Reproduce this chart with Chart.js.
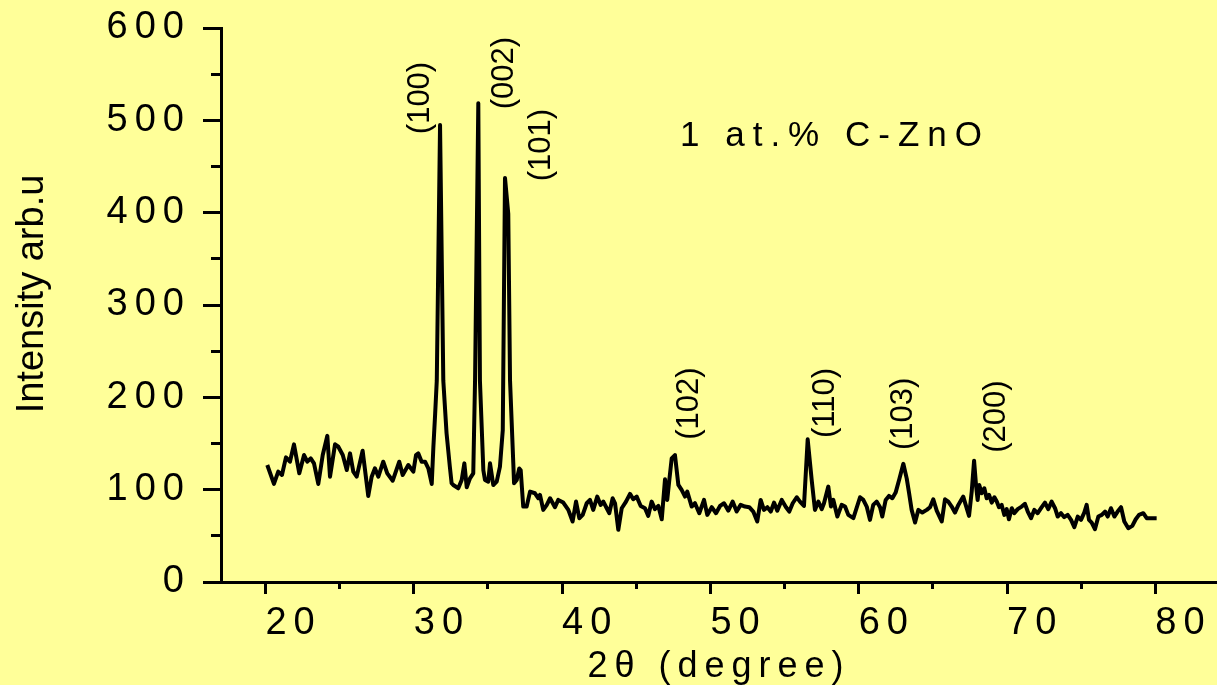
<!DOCTYPE html>
<html>
<head>
<meta charset="utf-8">
<title>XRD 1 at.% C-ZnO</title>
<script src="https://cdn.jsdelivr.net/npm/chart.js@4"></script>
<style>
  html, body { margin: 0; padding: 0; background: #ffff99; }
  canvas { display: block; }
</style>
</head>
<body>
<canvas id="xrd" width="1217" height="685"></canvas>
<script>
// 2-theta (degree) and intensity (arb. u) of the scan
const theta = [
  20.12, 20.57, 20.86, 21.11, 21.38, 21.65, 21.92, 22.28, 22.60, 22.82,
  23.05, 23.27, 23.56, 23.86, 24.17, 24.35, 24.69, 24.91, 25.21, 25.48,
  25.70, 25.92, 26.15, 26.55, 26.93, 27.16, 27.38, 27.61, 27.94, 28.21,
  28.58, 29.02, 29.25, 29.63, 29.97, 30.15, 30.30, 30.53, 30.76, 30.98,
  31.21, 31.32, 31.44, 31.55, 31.77, 31.99, 32.21, 32.43, 32.55, 32.66,
  33.00, 33.23, 33.41, 33.57, 33.79, 34.01, 34.13, 34.35, 34.46, 34.69,
  34.80, 35.02, 35.14, 35.36, 35.59, 35.81, 36.00, 36.15, 36.37, 36.49,
  36.71, 36.76, 36.94, 37.11, 37.21, 37.38, 37.61, 37.84, 38.17, 38.40,
  38.51, 38.73, 38.96, 39.19, 39.52, 39.74, 40.08, 40.42, 40.71, 40.94,
  41.16, 41.39, 41.66, 41.88, 42.10, 42.37, 42.60, 42.78, 43.01, 43.18,
  43.41, 43.57, 43.79, 44.02, 44.31, 44.58, 44.80, 45.03, 45.30, 45.59,
  45.81, 46.04, 46.26, 46.49, 46.72, 46.94, 47.09, 47.23, 47.39, 47.61,
  47.84, 48.06, 48.29, 48.44, 48.74, 48.96, 49.25, 49.57, 49.79, 50.09,
  50.38, 50.65, 50.92, 51.21, 51.50, 51.77, 52.04, 52.33, 52.62, 52.89,
  53.16, 53.39, 53.61, 53.84, 54.07, 54.29, 54.51, 54.81, 55.10, 55.32,
  55.55, 55.82, 56.04, 56.31, 56.56, 56.83, 57.05, 57.28, 57.51, 57.66,
  57.95, 58.13, 58.29, 58.56, 58.85, 59.08, 59.30, 59.64, 60.09, 60.31,
  60.54, 60.76, 60.98, 61.21, 61.44, 61.59, 61.82, 62.04, 62.27, 62.49,
  62.75, 63.01, 63.24, 63.40, 63.57, 63.80, 64.02, 64.29, 64.59, 64.81,
  65.03, 65.26, 65.60, 65.82, 66.04, 66.27, 66.49, 66.72, 66.94, 67.05,
  67.21, 67.44, 67.62, 67.78, 67.91, 68.02, 68.13, 68.29, 68.47, 68.63,
  68.79, 68.97, 69.15, 69.31, 69.46, 69.64, 69.82, 69.98, 70.13, 70.32,
  70.49, 70.72, 70.99, 71.21, 71.40, 71.62, 71.84, 72.07, 72.34, 72.56,
  72.78, 73.01, 73.24, 73.42, 73.64, 73.86, 74.09, 74.32, 74.54, 74.77,
  74.99, 75.21, 75.37, 75.53, 75.71, 75.93, 76.16, 76.39, 76.61, 76.79,
  77.01, 77.24, 77.46, 77.69, 77.91, 78.18, 78.45, 78.68, 78.90, 79.19,
  79.42, 80.09
];
const intensity = [
  126.7, 106.2, 119.5, 115.9, 135.0, 130.3, 149.1, 117.7, 137.5, 130.3,
  133.9, 128.5, 106.2, 137.5, 158.3, 114.1, 149.1, 146.5, 137.5, 121.3,
  139.3, 119.5, 114.1, 142.1, 93.2, 114.1, 123.1, 114.1, 130.3, 117.7,
  109.7, 130.3, 115.9, 126.7, 119.5, 137.5, 139.3, 130.3, 130.3, 123.1,
  106.2, 146, 182, 218, 495, 218, 161, 125, 107, 105,
  101.5, 110.5, 128.5, 102.6, 112.3, 117.7, 218, 518.5, 218, 121,
  110.5, 108.7, 128.5, 105, 108.7, 125, 164.5, 437.5, 399, 218,
  128.5, 107, 110.5, 123, 121, 81.7, 81.7, 97.9, 96.1, 90.7,
  94.3, 78.1, 83.2, 90.7, 81, 88.9, 86, 78.1, 65.5, 87.1,
  69.1, 72.7, 85.3, 88.9, 78.1, 92.5, 83.5, 87.1, 79.9, 74.5,
  90.7, 85.3, 56.5, 79.9, 87.1, 95.4, 89.6, 92.5, 82.4, 79.9,
  71.6, 87.1, 78.9, 82.4, 68.0, 111.3, 88.9, 110.5, 133.9, 137.5,
  105.1, 99.7, 92.5, 97.9, 81.7, 85.3, 74.5, 88.9, 72.7, 81,
  74.5, 82.4, 85.3, 77.3, 87.1, 76.3, 83.5, 81.7, 81, 76.3,
  65.5, 88.9, 78.1, 81, 76.3, 86, 77.3, 88.9, 81, 76.3,
  85.3, 91.8, 87.1, 82.4, 154.5, 110.5, 78.1, 87.1, 78.9, 85.3,
  103.3, 81.7, 88.9, 70.9, 83.5, 81.7, 72.7, 69.1, 91.8, 88.9,
  81.7, 67.3, 83.5, 87.1, 81, 70.9, 88.9, 93.2, 90.7, 96.8,
  112, 128, 112, 96, 78.1, 64.4, 78.1, 75.2, 78.1, 81,
  89.6, 77.3, 65.5, 89.6, 87.1, 81.7, 75.2, 83.5, 89.6, 92.5,
  83.8, 71.6, 97.9, 131.3, 105.1, 88.9, 105.1, 96.1, 101.5, 90.7,
  94.3, 86, 91.8, 87.1, 81, 83.5, 72.7, 78.9, 68, 79.9,
  74.5, 78.9, 81.7, 84.6, 76.3, 69.1, 78.1, 74.5, 81, 86,
  78.9, 87.1, 79.9, 70.9, 74.5, 70.2, 72.7, 67.3, 59.4, 70.9,
  67.3, 75.2, 83.5, 67.3, 64.4, 57.2, 70.9, 72.7, 76.3, 70.9,
  79.9, 70.9, 76.3, 81, 65.5, 58.3, 60.8, 68, 72.7, 74.5,
  69.1, 69.1
];

// axis ticks (labels only on the majors)
const xTicks = [20, 25, 30, 35, 40, 45, 50, 55, 60, 65, 70, 75, 80];
const yTicks = [0, 50, 100, 150, 200, 250, 300, 350, 400, 450, 500, 550, 600];

// Miller indices of the ZnO reflections and where each name sits (2theta, intensity)
const peakNames = ['(100)', '(002)', '(101)', '(102)', '(110)', '(103)', '(200)'];
const peakNameAt = [[30.42, 485], [36.08, 512], [38.58, 434], [48.62, 154], [57.73, 156], [62.99, 143], [69.26, 140]];

const sampleName = '1 at.% C-ZnO';
const FONT = 'Arial, "Liberation Sans", sans-serif';

// wide letter spacing for tick labels / x title, plain text for the rest
const textLayer = {
  id: 'textLayer',
  beforeDraw(chart) {
    chart.ctx.letterSpacing = '7px';
  },
  afterDraw(chart) {
    const { ctx, scales: { x, y } } = chart;
    ctx.save();
    ctx.fillStyle = '#000';

    // y axis title
    ctx.letterSpacing = '0px';
    ctx.font = '38px ' + FONT;
    ctx.save();
    ctx.translate(43, 294);
    ctx.rotate(-Math.PI / 2);
    ctx.textAlign = 'center';
    ctx.textBaseline = 'alphabetic';
    ctx.fillText('Intensity arb.u', 0, 0);
    ctx.restore();

    // reflection names, written upward
    ctx.font = '31px ' + FONT;
    peakNames.forEach((name, i) => {
      const px = x.getPixelForValue(peakNameAt[i][0]);
      const py = y.getPixelForValue(peakNameAt[i][1]);
      ctx.save();
      ctx.translate(px, py);
      ctx.rotate(-Math.PI / 2);
      ctx.textAlign = 'left';
      ctx.textBaseline = 'middle';
      ctx.fillText(name, 0, 0);
      ctx.restore();
    });

    // sample name
    ctx.letterSpacing = '8px';
    ctx.font = '35px ' + FONT;
    ctx.textAlign = 'left';
    ctx.textBaseline = 'alphabetic';
    ctx.fillText(sampleName, x.getPixelForValue(47.95), y.getPixelForValue(472.3));
    ctx.restore();
  }
};

new Chart(document.getElementById('xrd'), {
  type: 'line',
  data: {
    datasets: [{
      data: theta.map((t, i) => ({ x: t, y: intensity[i] })),
      borderColor: '#000',
      borderWidth: 4,
      borderJoinStyle: 'round',
      pointRadius: 0,
      tension: 0,
      fill: false
    }]
  },
  options: {
    responsive: false,
    animation: false,
    layout: { padding: { top: 28, right: 0, bottom: 0, left: 0 } },
    plugins: {
      legend: { display: false },
      tooltip: { enabled: false }
    },
    scales: {
      x: {
        type: 'linear',
        min: 17,
        max: 84.16,
        afterBuildTicks: s => { s.ticks = xTicks.map(v => ({ value: v })); },
        afterFit: s => { s.height = 103; s.paddingLeft = 0; s.paddingRight = 0; },
        border: { display: true, color: '#000', width: 3 },
        grid: {
          drawOnChartArea: false,
          tickLength: 12,
          tickWidth: 3,
          tickColor: '#000',
          // minor ticks: only the first few px of the tick line are drawn
          tickBorderDash: c => (c.tick && c.tick.value % 10 ? [5, 40] : [])
        },
        ticks: {
          autoSkip: false,
          maxRotation: 0,
          align: 'start',
          padding: 7,
          color: '#000',
          font: { family: FONT, size: 38 },
          callback: v => (v % 10 === 0 ? String(v) : '')
        },
        title: {
          display: true,
          text: '2θ (degree)',
          color: '#000',
          padding: { top: 0, bottom: 0 },
          font: { family: FONT, size: 36, lineHeight: 1 }
        }
      },
      y: {
        min: 0,
        max: 600,
        afterBuildTicks: s => { s.ticks = yTicks.map(v => ({ value: v })); },
        // fixed axis width; the top label may hang into the outer padding
        afterFit: s => { s.width = 221; s.paddingTop = 0; s.paddingBottom = 0; },
        border: { display: true, color: '#000', width: 3 },
        grid: {
          drawOnChartArea: false,
          tickLength: 18,
          tickWidth: 3,
          tickColor: '#000',
          // tick lines run outer -> inner here, so skip the outer 8 px on minors
          tickBorderDash: c => (c.tick && c.tick.value % 100 ? [10, 8] : []),
          tickBorderDashOffset: c => (c.tick && c.tick.value % 100 ? 10 : 0)
        },
        ticks: {
          autoSkip: false,
          padding: 12,
          color: '#000',
          font: { family: FONT, size: 38 },
          callback: v => (v % 100 === 0 ? String(v) : '')
        }
      }
    }
  },
  plugins: [textLayer]
});
</script>
</body>
</html>
